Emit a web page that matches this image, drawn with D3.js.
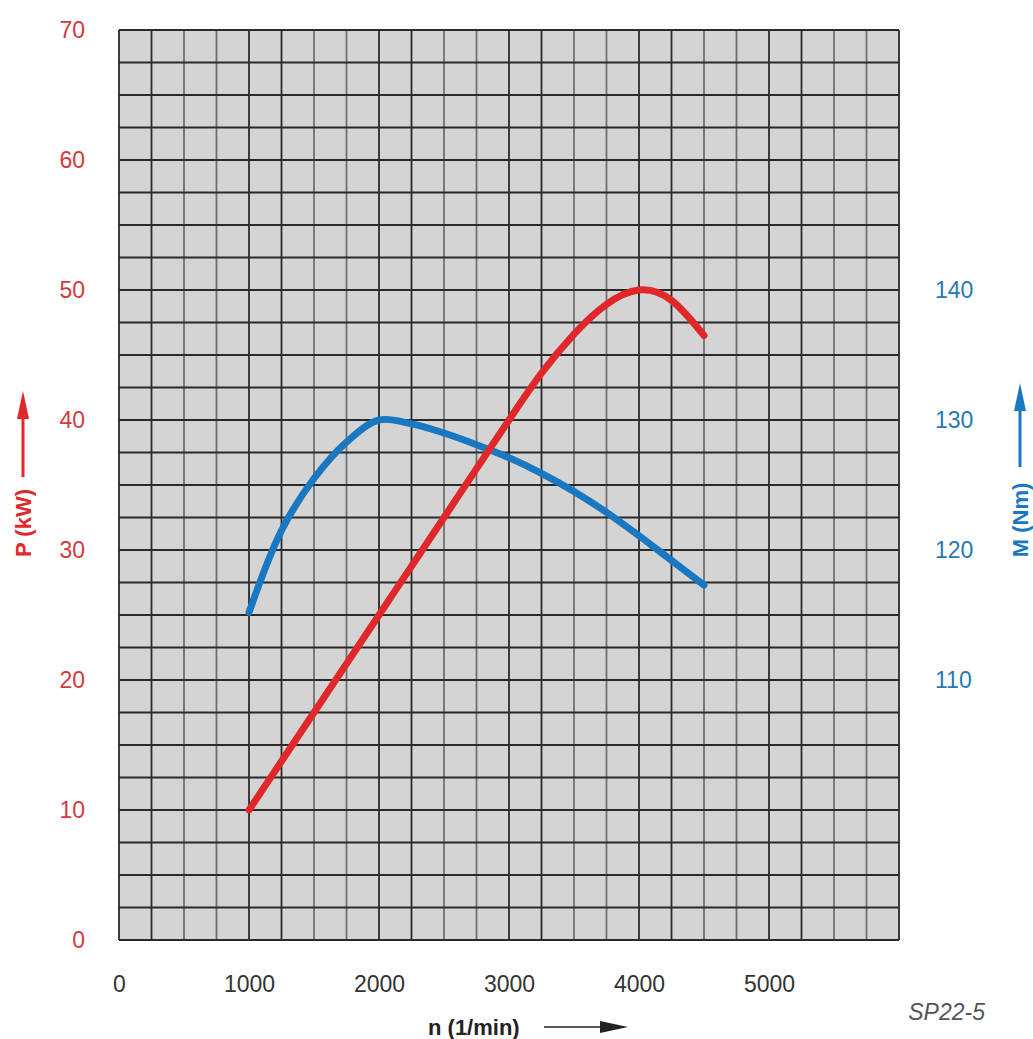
<!DOCTYPE html>
<html>
<head>
<meta charset="utf-8">
<script src="https://cdn.jsdelivr.net/npm/d3@7"></script>
<style>
  html, body { margin: 0; padding: 0; background: #fff; }
  svg { display: block; }
  text { font-family: "Liberation Sans", Arial, sans-serif; }
</style>
</head>
<body>
<svg id="chart" width="1033" height="1039"></svg>
<script>
// Engine speed (1/min) sampled along each curve
const rpmPower  = [1000, 1500, 2000, 2500, 3000, 3250, 3500, 3750, 4000, 4250, 4500];
const powerKW   = [10, 17.5, 25, 32.5, 40, 43.6, 46.6, 48.9, 50, 49.2, 46.5];

const rpmTorque = [1000, 1250, 1500, 1750, 2000, 2250, 2500, 2750, 3000, 3250, 3500, 3750, 4000, 4250, 4500];
const torqueNm  = [115.2, 121.5, 125.5, 128.3, 130, 129.7, 129.0, 128.1, 127.1, 125.9, 124.5, 122.9, 121.1, 119.2, 117.3];

// Tick labels
const rpmTicks    = [0, 1000, 2000, 3000, 4000, 5000];
const powerTicks  = [0, 10, 20, 30, 40, 50, 60, 70];
const torqueTicks = [110, 120, 130, 140];

const RED = "#e0282b", RED_TXT = "#d23a3e";
const BLUE = "#1a78c2", BLUE_TXT = "#2679b5";

const svg = d3.select("#chart");

const x  = d3.scaleLinear().domain([0, 6000]).range([119, 899]);
const yP = d3.scaleLinear().domain([0, 70]).range([940, 30]);
const yM = d3.scaleLinear().domain([90, 160]).range([940, 30]);

// Plot background
svg.append("rect")
  .attr("x", x(0)).attr("y", yP(70))
  .attr("width", x(6000) - x(0)).attr("height", yP(0) - yP(70))
  .attr("fill", "#d4d4d5");

// Grid: 250 rpm columns, 2.5 kW rows
const grid = svg.append("g");
d3.range(0, 6000.1, 250).forEach((v, i) => {
  const light = (i % 4 === 2 || i % 4 === 3) && v !== 0 && v !== 6000;
  grid.append("line")
    .attr("x1", x(v)).attr("x2", x(v))
    .attr("y1", yP(70)).attr("y2", yP(0))
    .attr("stroke", light ? "#707070" : "#2a2a2a")
    .attr("stroke-width", 1.8);
});
d3.range(0, 70.1, 2.5).forEach(v => {
  grid.append("line")
    .attr("x1", x(0)).attr("x2", x(6000))
    .attr("y1", yP(v)).attr("y2", yP(v))
    .attr("stroke", "#2a2a2a")
    .attr("stroke-width", 1.8);
});

// Axes
const left = svg.append("g")
  .attr("transform", `translate(${x(0)},0)`)
  .call(d3.axisLeft(yP).tickValues(powerTicks).tickSize(0).tickPadding(34));
const right = svg.append("g")
  .attr("transform", `translate(${x(6000)},0)`)
  .call(d3.axisRight(yM).tickValues(torqueTicks).tickSize(0).tickPadding(36));
const bottom = svg.append("g")
  .attr("transform", `translate(0,${yP(0)})`)
  .call(d3.axisBottom(x).tickValues(rpmTicks).tickSize(0).tickPadding(36).tickFormat(d3.format("d")));

[left, right, bottom].forEach(g => {
  g.select(".domain").remove();
  g.selectAll("text")
    .style("font-family", "'Liberation Sans', Arial, sans-serif")
    .style("font-size", "23px");
});
left.selectAll("text").attr("fill", RED_TXT);
right.selectAll("text").attr("fill", BLUE_TXT);
bottom.selectAll("text").attr("fill", "#333");

// Curves (smooth splines through the sampled points)
const powerData  = rpmPower.map((r, i) => ({ r, v: powerKW[i] }));
const torqueData = rpmTorque.map((r, i) => ({ r, v: torqueNm[i] }));

svg.append("path")
  .datum(torqueData)
  .attr("fill", "none")
  .attr("stroke", BLUE)
  .attr("stroke-width", 7)
  .attr("stroke-linecap", "round")
  .attr("d", d3.line().x(d => x(d.r)).y(d => yM(d.v)).curve(d3.curveCatmullRom.alpha(0.5)));

svg.append("path")
  .datum(powerData)
  .attr("fill", "none")
  .attr("stroke", RED)
  .attr("stroke-width", 7)
  .attr("stroke-linecap", "round")
  .attr("d", d3.line().x(d => x(d.r)).y(d => yP(d.v)).curve(d3.curveNatural));

// Axis titles with arrows
function vArrow(cx, yTop, yBottom, color) {
  svg.append("line")
    .attr("x1", cx).attr("x2", cx)
    .attr("y1", yTop + 20).attr("y2", yBottom)
    .attr("stroke", color).attr("stroke-width", 3);
  svg.append("path")
    .attr("d", `M${cx},${yTop} L${cx - 6},${yTop + 28} L${cx + 6},${yTop + 28} Z`)
    .attr("fill", color);
}

// P (kW) on the left
svg.append("text")
  .attr("transform", "translate(31,523) rotate(-90)")
  .attr("text-anchor", "middle")
  .attr("fill", RED)
  .style("font-size", "22px")
  .style("font-weight", "bold")
  .text("P (kW)");
vArrow(23, 391, 477, RED);

// M (Nm) on the right
svg.append("text")
  .attr("transform", "translate(1028,520) rotate(-90)")
  .attr("text-anchor", "middle")
  .attr("fill", BLUE)
  .style("font-size", "22px")
  .style("font-weight", "bold")
  .text("M (Nm)");
vArrow(1020, 383, 467, BLUE);

// n (1/min) below
svg.append("text")
  .attr("x", 428).attr("y", 1035)
  .attr("fill", "#222")
  .style("font-size", "22px")
  .style("font-weight", "bold")
  .text("n (1/min)");
svg.append("line")
  .attr("x1", 544).attr("x2", 605)
  .attr("y1", 1027).attr("y2", 1027)
  .attr("stroke", "#222").attr("stroke-width", 1.5);
svg.append("path")
  .attr("d", "M628,1027 L600,1021 L600,1033 Z")
  .attr("fill", "#222");

// Figure code
svg.append("text")
  .attr("x", 985).attr("y", 1020)
  .attr("text-anchor", "end")
  .attr("fill", "#555")
  .style("font-size", "23px")
  .style("font-style", "italic")
  .text("SP22-5");
</script>
</body>
</html>
